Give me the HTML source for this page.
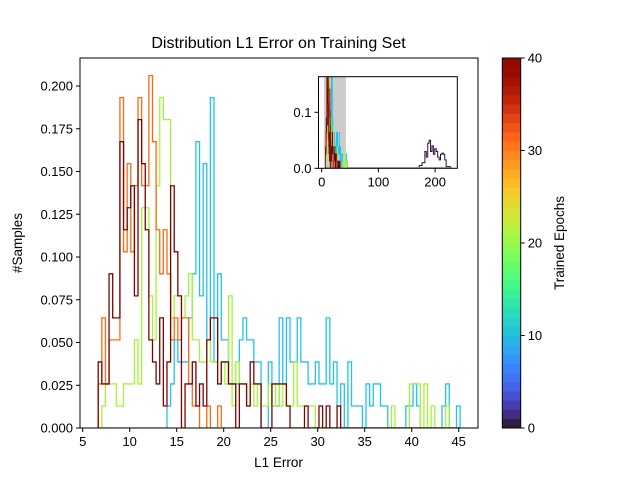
<!DOCTYPE html>
<html><head><meta charset="utf-8"><style>
body{margin:0;background:#fff;}
svg text{font-family:"Liberation Sans","DejaVu Sans",sans-serif;fill:#000;}
</style></head><body>
<svg id="chart" width="640" height="480" viewBox="0 0 640 480" xmlns="http://www.w3.org/2000/svg">
<rect width="640" height="480" fill="#fff"/>
<text x="278.5" y="48" font-size="16" text-anchor="middle">Distribution L1 Error on Training Set</text>
<g id="main"></g>
<text x="278.5" y="467" font-size="13.5" text-anchor="middle">L1 Error</text>
<text transform="translate(22,243) rotate(-90)" font-size="13.5" text-anchor="middle">#Samples</text>
<g id="inset"></g>
<g id="cbar"></g>
<text transform="translate(564,243) rotate(-90)" font-size="13.5" text-anchor="middle">Trained Epochs</text>
</svg>
<script>
// data
const binStart = 6.65;
const binWidth = 0.385;
const countUnit = 0.01288;
const cyanCounts = [0,0,0,0,0,0,0,0,0,0, 0,0,0,0,0,0,0,0,0,1, 2,4,3,3,3,5,7,13,6,12, 4,15,3,7,4,4,2,2,2,4, 5,4,4,3,3,0,0,3,1,1, 5,2,5,3,3,5,3,3,2,2, 3,2,2,5,2,3,1,2,0,3, 1,1,1,0,2,1,2,2,1,1, 0,0,0,0,0,1,1,2,1,0, 0,0,0,0,0,1,2,0,0,1];
const greenCounts = [0,1,2,2,2,1,1,2,2,2, 4,2,10,10,6,4,11,15,14,14, 5,6,6,5,6,7,4,4,3,3, 4,3,3,2,3,2,6,1,3,2, 2,1,2,1,2,1,1,2,1,2, 1,2,1,1,3,1,1,1,1,1, 0,0,0,0,0,0,0,0,0,0, 0,0,0,0,0,0,0,0,0,0, 0,1,0,0,0,0,2,2,2,0, 2,0,1,0,0,0,1,0,0,0];
const orangeCounts = [2,5,2,4,4,4,15,8,12,8, 11,15,11,11,16,13,9,7,9,7, 4,5,4,5,5,2,1,1,0,0, 1,0,0,1,0,0,0,0,0,0, 0,0,0,0,0,0,0,0,0,0, 0,0,0,0,0,0,0,0,0,0, 0,0,0,0,0,0,0,0,0,0, 0,0,0,0,0,0,0,0,0,0, 0,0,0,0,0,0,0,0,0,0, 0,0,0,0,0,0,0,0,0,0];
const redCounts = [3,2,2,7,5,5,13,9,10,11, 6,14,12,9,4,3,2,5,1,3, 11,8,6,0,2,2,3,1,2,1, 4,5,5,2,3,3,2,2,0,2, 2,1,3,2,2,0,0,0,2,2, 2,2,1,0,0,0,0,1,0,0, 0,1,0,1,0,0,1,0,0,0, 0,0,0,0,0,0,0,0,0,0, 0,0,0,0,0,0,0,0,0,0, 0,0,0,0,0,0,0,0,0,0];
const purpleStart = 172;
const purpleWidth = 2.5;
const purpleValues = [0.005,0.005,0.01,0.01,0.03,0.02,0.045,0.05,0.03,0.04,0.025,0.035,0.03,0.02,0.015,0.025,0.027,0.025,0.015,0.003,0.003,0.003];
const xTicks = [5,10,15,20,25,30,35,40,45];
const yTicks = [0,0.025,0.05,0.075,0.1,0.125,0.15,0.175,0.2];
const yTickLabels = ["0.000","0.025","0.050","0.075","0.100","0.125","0.150","0.175","0.200"];
const insetXTicks = [0,100,200];
const insetYTicks = [0,0.1];
const insetYTickLabels = ["0.0","0.1"];
const cbarTicks = [0,10,20,30,40];
const series = [
  {name:'epoch-10', counts:cyanCounts, color:'#22c3ea'},
  {name:'epoch-20', counts:greenCounts, color:'#a4f53a'},
  {name:'epoch-30', counts:orangeCounts, color:'#fd6a12'},
  {name:'epoch-40', counts:redCounts, color:'#7a0403'}
];
const NS='http://www.w3.org/2000/svg';
function mk(tag, attrs, parent){const e=document.createElementNS(NS,tag);for(const k in attrs)e.setAttribute(k,attrs[k]);parent.appendChild(e);return e;}
const L=80,R=478,T=58,B=428;
const xs=v=>82.7+(v-5)*9.4;
const ys=v=>B-v*1710;
const main=document.getElementById('main');
const defs=mk('defs',{},main);
const cp=mk('clipPath',{id:'clipMain'},defs);mk('rect',{x:L,y:T,width:R-L,height:B-T},cp);
const plotG=mk('g',{'clip-path':'url(#clipMain)'},main);
function stepPath(counts,start,width,unit,fx,fy){
  let d='M'+fx(start).toFixed(2)+','+fy(0).toFixed(2);
  counts.forEach((c,i)=>{const x0=fx(start+i*width),x1=fx(start+(i+1)*width),y=fy(c*unit);d+=' L'+x0.toFixed(2)+','+y.toFixed(2)+' L'+x1.toFixed(2)+','+y.toFixed(2);});
  d+=' L'+fx(start+counts.length*width).toFixed(2)+','+fy(0).toFixed(2);
  return d;
}
series.forEach(s=>{
  const p=mk('path',{d:stepPath(s.counts,binStart,binWidth,countUnit,xs,ys),fill:'none',stroke:s.color,'stroke-width':1.3},plotG);
  
  
});
const frame=mk('rect',{x:L,y:T,width:R-L,height:B-T,fill:'none',stroke:'#000','stroke-width':1},main);


xTicks.forEach(v=>{
  mk('line',{x1:xs(v),x2:xs(v),y1:B,y2:B+4,stroke:'#000'},main);
  const t=mk('text',{x:xs(v),y:B+18,'font-size':13,'text-anchor':'middle'},main);t.textContent=v;
  
  
});
yTicks.forEach((v,i)=>{
  mk('line',{x1:L-4,x2:L,y1:ys(v),y2:ys(v),stroke:'#000'},main);
  const t=mk('text',{x:L-7,y:ys(v)+4.5,'font-size':13,'text-anchor':'end'},main);t.textContent=yTickLabels[i];
  
  
});
const IL=318.5,IR=457.3,IT=76.7,IB=168.3;
const ixs=v=>321.7+v*0.567;
const iys=v=>IB-v*560;
const inset=document.getElementById('inset');
const ibg=mk('rect',{x:IL,y:IT,width:IR-IL,height:IB-IT,fill:'#fff'},inset);


const icp=mk('clipPath',{id:'clipInset'},defs);mk('rect',{x:IL,y:IT,width:IR-IL,height:IB-IT},icp);
const ig=mk('g',{'clip-path':'url(#clipInset)'},inset);
const span=mk('rect',{x:ixs(binStart-2.5),y:IT,width:ixs(binStart+100*binWidth-2.5)-ixs(binStart-2.5),height:IB-IT,fill:'#cccccc'},ig);


const pp=mk('path',{d:stepPath(purpleValues,purpleStart,purpleWidth,1,ixs,iys),fill:'none',stroke:'#30123b','stroke-width':1.0},ig);


mk('line',{x1:ixs(binStart),x2:ixs(230),y1:IB-0.5,y2:IB-0.5,stroke:'#b08a60','stroke-width':1},ig);
series.forEach(s=>{
  const p=mk('path',{d:stepPath(s.counts,binStart,binWidth,countUnit,ixs,iys),fill:'none',stroke:s.color,'stroke-width':0.7},ig);
  
  
});
mk('rect',{x:IL,y:IT,width:IR-IL,height:IB-IT,fill:'none',stroke:'#000'},inset);
insetXTicks.forEach(v=>{
  mk('line',{x1:ixs(v),x2:ixs(v),y1:IB,y2:IB+4,stroke:'#000'},inset);
  const t=mk('text',{x:ixs(v),y:IB+18,'font-size':13,'text-anchor':'middle'},inset);t.textContent=v;
  
  
});
insetYTicks.forEach((v,i)=>{
  mk('line',{x1:IL-4,x2:IL,y1:iys(v),y2:iys(v),stroke:'#000'},inset);
  const t=mk('text',{x:IL-7,y:iys(v)+4.5,'font-size':13,'text-anchor':'end'},inset);t.textContent=insetYTickLabels[i];
  
  
});
function turbo(t){
  const r=0.13572138+t*(4.61539260+t*(-42.66032258+t*(132.13108234+t*(-152.94239396+t*59.28637943))));
  const g=0.09140261+t*(2.19418839+t*(4.84296658+t*(-14.18503333+t*(4.27729857+t*2.82956604))));
  const b=0.10667330+t*(12.64194608+t*(-60.58204836+t*(110.36276771+t*(-89.90310912+t*27.34824973))));
  const c=v=>Math.round(Math.max(0,Math.min(1,v))*255);
  return 'rgb('+c(r)+','+c(g)+','+c(b)+')';
}
const cb=document.getElementById('cbar');
const CL=502.3,CR=520.7,CT=58,CB=428;
const cys=v=>CB-(v/40)*(CB-CT);
for(let i=0;i<40;i++){
  const r=mk('rect',{x:CL,y:cys(i+1),width:CR-CL,height:cys(i)-cys(i+1)+0.4,fill:turbo((i+0.5)/40)},cb);
  
  
}
mk('rect',{x:CL,y:CT,width:CR-CL,height:CB-CT,fill:'none',stroke:'#000'},cb);
cbarTicks.forEach(v=>{
  mk('line',{x1:CR,x2:CR+4,y1:cys(v),y2:cys(v),stroke:'#000'},cb);
  const t=mk('text',{x:CR+7,y:cys(v)+4.5,'font-size':13},cb);t.textContent=v;
  
  
});
</script>
</body></html>
